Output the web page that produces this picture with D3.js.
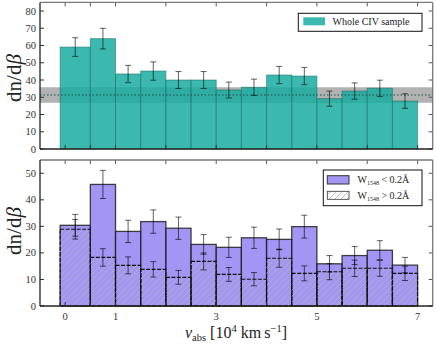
<!DOCTYPE html>
<html>
<head>
<meta charset="utf-8">
<script src="https://cdn.jsdelivr.net/npm/d3@7"></script>
<style>
  body { margin: 0; background: #fff; }
  text { font-family: "Liberation Serif", "DejaVu Serif", serif; }
</style>
</head>
<body>
<div id="chart"></div>
<script>
// bin edges in units of 10^4 km/s
const binEdges = [-0.1, 0.5, 1.0, 1.5, 2.0, 2.5, 3.0, 3.5, 4.0, 4.5, 5.0, 5.5, 6.0, 6.5, 7.0];

// top panel: whole sample
const wholeVals = [59.1, 64.0, 43.5, 45.2, 40.0, 40.0, 34.2, 35.8, 42.9, 42.3, 29.2, 33.6, 35.2, 27.8];
const wholeErr  = [5.4, 6.0, 5.0, 5.3, 4.9, 4.9, 4.6, 4.7, 5.0, 5.0, 4.4, 4.7, 4.7, 4.2];
const meanVal = 31.3;
const meanBand = [26.8, 35.8];

// bottom panel: weak (W < 0.2) and strong (W > 0.2)
const weakVals   = [30.4, 45.8, 28.1, 31.8, 29.3, 23.2, 22.1, 25.7, 25.1, 29.9, 15.9, 19.0, 21.0, 15.4];
const weakErr    = [4.1, 5.3, 4.2, 4.4, 4.2, 3.7, 3.8, 4.0, 3.9, 4.3, 3.1, 3.4, 3.6, 2.9];
const strongVals = [28.9, 18.3, 15.3, 13.8, 10.8, 16.8, 11.9, 10.1, 18.0, 12.3, 12.9, 14.2, 14.2, 12.3];
const strongErr  = [3.7, 3.3, 3.2, 2.9, 2.6, 3.2, 2.6, 2.5, 3.4, 2.8, 3.0, 3.1, 3.0, 2.7];

const xTicks = [0, 0.5, 1, 2, 3, 4, 5, 6, 7];
const xTickLabels = [0, 1, 3, 5, 7];
const topYTicks = [0, 10, 20, 30, 40, 50, 60, 70, 80];
const botYTicks = [0, 10, 20, 30, 40, 50];

const width = 436, height = 348;
const left = 40, right = 432.7;

const svg = d3.select('#chart').append('svg')
    .attr('width', width)
    .attr('height', height);

const defs = svg.append('defs');
const hatch = defs.append('pattern')
    .attr('id', 'hatch')
    .attr('patternUnits', 'userSpaceOnUse')
    .attr('width', 6).attr('height', 6);
hatch.append('path')
    .attr('d', 'M-1,1 l2,-2 M0,6 l6,-6 M5,7 l2,-2')
    .attr('stroke', '#b4b4b4')
    .attr('stroke-width', 0.8);

const x = d3.scaleLinear().domain([-0.5, 7.3]).range([left, right]);
const yTop = d3.scaleLinear().domain([0, 85]).range([149, 2.4]);
const yBot = d3.scaleLinear().domain([0, 55]).range([306, 160]);

const bins = binEdges.slice(0, -1).map(function(d, i){
    return {x0: d, x1: binEdges[i + 1], i: i};
});

function drawFrame(g, y, yTicks, showXLabels){
    const y0 = y.range()[0], y1 = y.range()[1];
    // ticks (inward)
    xTicks.forEach(function(t){
        g.append('line').attr('x1', x(t)).attr('x2', x(t))
            .attr('y1', y0).attr('y2', y0 - 4)
            .attr('stroke', '#333').attr('stroke-width', 1);
        g.append('line').attr('x1', x(t)).attr('x2', x(t))
            .attr('y1', y1).attr('y2', y1 + 4)
            .attr('stroke', '#555').attr('stroke-width', 1);
    });
    yTicks.forEach(function(t){
        g.append('line').attr('x1', left).attr('x2', left + 4)
            .attr('y1', y(t)).attr('y2', y(t))
            .attr('stroke', '#333').attr('stroke-width', 1);
        g.append('line').attr('x1', right).attr('x2', right - 4)
            .attr('y1', y(t)).attr('y2', y(t))
            .attr('stroke', '#555').attr('stroke-width', 1);
        g.append('text')
            .attr('x', left - 4).attr('y', y(t) + 3.5)
            .attr('text-anchor', 'end')
            .attr('font-size', 10.5)
            .attr('fill', '#333')
            .text(t);
    });
    // spines
    g.append('line').attr('x1', left).attr('x2', right).attr('y1', y1).attr('y2', y1)
        .attr('stroke', '#777').attr('stroke-width', 1.3);
    g.append('line').attr('x1', right).attr('x2', right).attr('y1', y1).attr('y2', y0)
        .attr('stroke', '#777').attr('stroke-width', 1.3);
    g.append('line').attr('x1', left).attr('x2', right).attr('y1', y0).attr('y2', y0)
        .attr('stroke', '#222').attr('stroke-width', 1.3);
    g.append('line').attr('x1', left).attr('x2', left).attr('y1', y1).attr('y2', y0)
        .attr('stroke', '#222').attr('stroke-width', 1.3);
    if(showXLabels){
        xTickLabels.forEach(function(t){
            g.append('text')
                .attr('x', x(t)).attr('y', y0 + 14)
                .attr('text-anchor', 'middle')
                .attr('font-size', 10.5)
                .attr('fill', '#333')
                .text(t);
        });
    }
}

function drawErrors(g, y, vals, errs){
    const eb = g.append('g')
        .attr('stroke', '#000')
        .attr('stroke-opacity', 0.62)
        .attr('stroke-width', 1);
    bins.forEach(function(b){
        const cx = x((b.x0 + b.x1) / 2);
        const hi = y(vals[b.i] + errs[b.i]), lo = y(vals[b.i] - errs[b.i]);
        eb.append('line').attr('x1', cx).attr('x2', cx).attr('y1', hi).attr('y2', lo);
        eb.append('line').attr('x1', cx - 3).attr('x2', cx + 3).attr('y1', hi).attr('y2', hi);
        eb.append('line').attr('x1', cx - 3).attr('x2', cx + 3).attr('y1', lo).attr('y2', lo);
    });
}

// ---------- top panel ----------
const gTop = svg.append('g');

gTop.append('rect')
    .attr('x', left).attr('width', right - left)
    .attr('y', yTop(meanBand[1]))
    .attr('height', yTop(meanBand[0]) - yTop(meanBand[1]))
    .attr('fill', '#b2b2b2');

gTop.selectAll('.whole_bar')
    .data(bins)
    .enter()
    .append('rect')
    .attr('class', 'whole_bar')
    .attr('x', function(d){ return x(d.x0); })
    .attr('width', function(d){ return x(d.x1) - x(d.x0); })
    .attr('y', function(d){ return yTop(wholeVals[d.i]); })
    .attr('height', function(d){ return yTop(0) - yTop(wholeVals[d.i]); })
    .attr('fill', '#15ac9f')
    .attr('fill-opacity', 0.84)
    .attr('stroke', '#1d6e68')
    .attr('stroke-opacity', 0.55)
    .attr('stroke-width', 1);

gTop.append('line')
    .attr('x1', left).attr('x2', right)
    .attr('y1', yTop(meanVal)).attr('y2', yTop(meanVal))
    .attr('stroke', '#1f4f4c')
    .attr('stroke-width', 1.2)
    .attr('stroke-dasharray', '1.5,2');

drawErrors(gTop, yTop, wholeVals, wholeErr);
drawFrame(gTop, yTop, topYTicks, false);

// legend top
const lgTop = gTop.append('g');
lgTop.append('rect').attr('x', 298.3).attr('y', 13.3).attr('width', 123.7).attr('height', 18)
    .attr('fill', '#fff').attr('stroke', '#111').attr('stroke-width', 1);
lgTop.append('rect').attr('x', 303.3).attr('y', 17.3).attr('width', 21.7).attr('height', 8)
    .attr('fill', '#15ac9f').attr('fill-opacity', 0.84);
lgTop.append('text').attr('x', 332.5).attr('y', 25.2).attr('font-size', 10).attr('fill', '#222')
    .text('Whole CIV sample');

// ---------- bottom panel ----------
const gBot = svg.append('g');

gBot.selectAll('.weak_bar')
    .data(bins)
    .enter()
    .append('rect')
    .attr('class', 'weak_bar')
    .attr('x', function(d){ return x(d.x0); })
    .attr('width', function(d){ return x(d.x1) - x(d.x0); })
    .attr('y', function(d){ return yBot(weakVals[d.i]); })
    .attr('height', function(d){ return yBot(0) - yBot(weakVals[d.i]); })
    .attr('fill', '#7b68ee')
    .attr('fill-opacity', 0.7)
    .attr('stroke', '#222')
    .attr('stroke-opacity', 0.85)
    .attr('stroke-width', 1.3);

gBot.selectAll('.strong_bar')
    .data(bins)
    .enter()
    .append('rect')
    .attr('class', 'strong_bar')
    .attr('x', function(d){ return x(d.x0); })
    .attr('width', function(d){ return x(d.x1) - x(d.x0); })
    .attr('y', function(d){ return yBot(strongVals[d.i]); })
    .attr('height', function(d){ return yBot(0) - yBot(strongVals[d.i]); })
    .attr('fill', 'url(#hatch)')
    .attr('stroke', '#111')
    .attr('stroke-width', 1.1)
    .attr('stroke-dasharray', '4,1.5');

drawErrors(gBot, yBot, weakVals, weakErr);
drawErrors(gBot, yBot, strongVals, strongErr);
drawFrame(gBot, yBot, botYTicks, true);

// legend bottom
const lgBot = gBot.append('g');
lgBot.append('rect').attr('x', 323.3).attr('y', 170).attr('width', 98.7).attr('height', 35.7)
    .attr('fill', '#fff').attr('stroke', '#111').attr('stroke-width', 1);
lgBot.append('rect').attr('x', 327.3).attr('y', 175.7).attr('width', 21.7).attr('height', 8.3)
    .attr('fill', '#7b68ee').attr('fill-opacity', 0.7).attr('stroke', '#333').attr('stroke-width', 1);
lgBot.append('rect').attr('x', 327.3).attr('y', 191.3).attr('width', 21.7).attr('height', 8)
    .attr('fill', 'url(#hatch)').attr('stroke', '#333').attr('stroke-width', 0.8);

function wLabel(yb, sign){
    const t = lgBot.append('text').attr('x', 357.5).attr('y', yb).attr('font-size', 10).attr('fill', '#222');
    t.append('tspan').text('W');
    t.append('tspan').attr('font-size', 6).attr('dy', 2).text('1548');
    t.append('tspan').attr('dy', -2).text(' ' + sign + ' 0.2\u00c5');
}
wLabel(182.8, '<');
wLabel(198.5, '>');

// ---------- axis labels ----------
function yLabel(cy){
    const t = svg.append('text')
        .attr('transform', 'translate(21,' + cy + ') rotate(-90)')
        .attr('text-anchor', 'middle')
        .attr('font-size', 21)
        .attr('fill', '#222');
    t.append('tspan').text('dn/d');
    t.append('tspan').attr('font-style', 'italic').text('\u03b2');
}
yLabel(78);
yLabel(231);

const xl = svg.append('text')
    .attr('x', 236).attr('y', 338)
    .attr('text-anchor', 'middle')
    .attr('font-size', 16)
    .attr('fill', '#222');
xl.append('tspan').attr('font-style', 'italic').text('v');
xl.append('tspan').attr('font-size', 10.5).attr('dy', 3).text('abs');
xl.append('tspan').attr('dy', -3).text(' [10');
xl.append('tspan').attr('font-size', 10.5).attr('dy', -6).text('4');
xl.append('tspan').attr('dy', 6).text(' km\u2009s');
xl.append('tspan').attr('font-size', 10.5).attr('dy', -6).text('\u22121');
xl.append('tspan').attr('dy', 6).text(']');
</script>
</body>
</html>
